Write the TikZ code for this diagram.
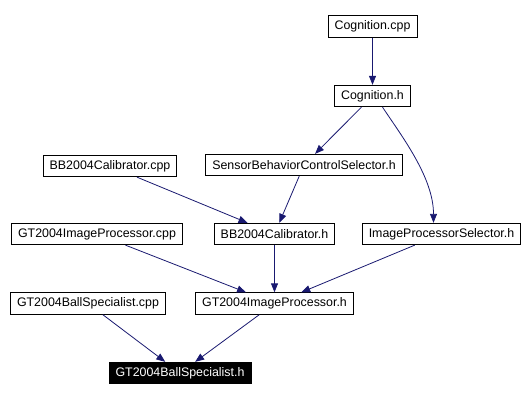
\documentclass[tikz,border=0pt]{standalone}
\usepackage{fontspec}
\setmainfont{Liberation Sans}
\usepackage{xcolor}
\usetikzlibrary{arrows.meta,positioning,calc}
\definecolor{edgeblue}{RGB}{25,25,112}

\begin{document}
\begin{tikzpicture}[
  x=1pt, y=-1pt,
  file/.style={draw=black, fill=white, line width=0.8pt, inner xsep=6.5pt, inner ysep=0pt,
    minimum height=21.5pt, font=\fontsize{12.4}{14}\selectfont},
  mainfile/.style={file, fill=black, text=white},
  dep/.style={edgeblue, line width=0.8pt, -{Triangle[length=9pt,width=7pt]}}
]
\useasboundingbox (0,0) rectangle (525,401);
\node[file] (cogcpp) at (372.5,26.5) {Cognition.cpp};
\node[file] (cogh) at (372.5,96) {Cognition.h};
\node[file] (bbcpp) at (110,166) {BB2004Calibrator.cpp};
\node[file] (sbcs) at (304,165) {SensorBehaviorControlSelector.h};
\node[file] (gtipcpp) at (97,234) {GT2004ImageProcessor.cpp};
\node[file] (bbh) at (274.5,234) {BB2004Calibrator.h};
\node[file] (ips) at (441.5,234) {ImageProcessorSelector.h};
\node[file] (gtbscpp) at (88,303.5) {GT2004BallSpecialist.cpp};
\node[file] (gtiph) at (274.5,303.5) {GT2004ImageProcessor.h};
\node[mainfile] (gtbsh) at (180,373) {GT2004BallSpecialist.h};
\draw[dep] (cogcpp) -- (cogh);
\draw[dep] (cogh) -- (sbcs);
\draw[dep] ([xshift=10pt]cogh.south) .. controls +(20,30) and +(0,-45) .. ([xshift=-8pt]ips.north);
\draw[dep] (bbcpp) -- (bbh);
\draw[dep] (sbcs) -- (bbh);
\draw[dep] (gtipcpp) -- (gtiph);
\draw[dep] (bbh) -- (gtiph);
\draw[dep] (ips) -- (gtiph);
\draw[dep] (gtbscpp) -- (gtbsh);
\draw[dep] (gtiph) -- (gtbsh);
\end{tikzpicture}
\end{document}
